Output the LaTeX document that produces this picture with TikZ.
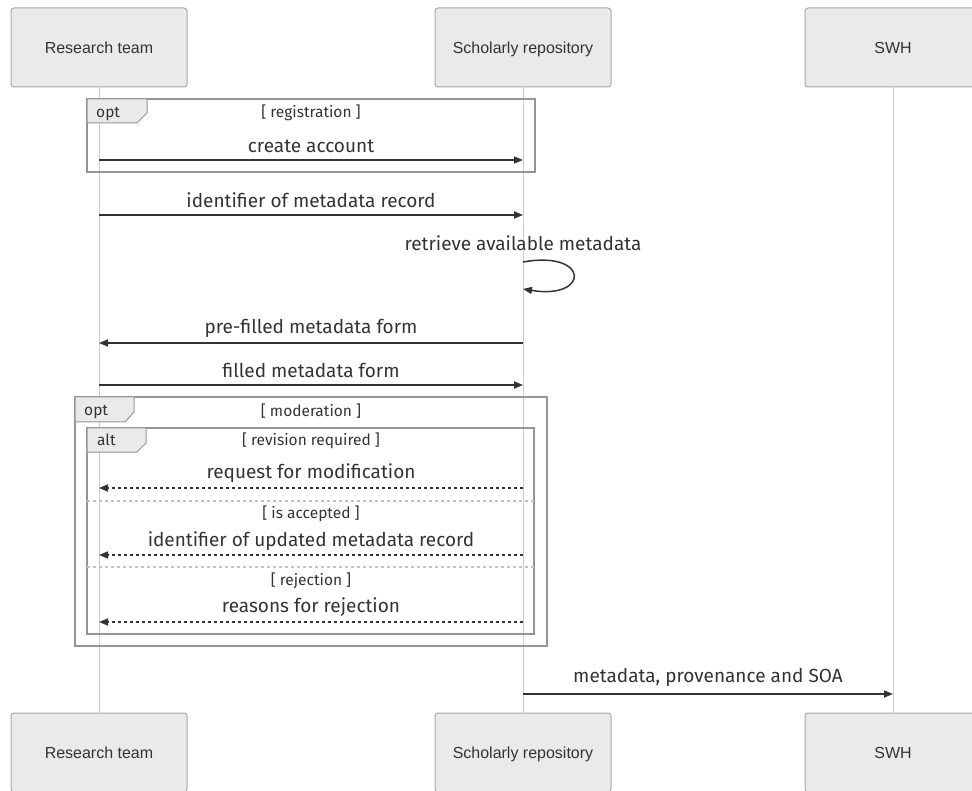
\documentclass[tikz,border=0pt]{standalone}
\usepackage{fontspec}
\setmainfont{Liberation Sans}
\newfontfamily\msgfont{Fira Sans}
\usetikzlibrary{arrows.meta}
\definecolor{actorfill}{HTML}{EAEAEA}
\definecolor{actorline}{HTML}{A8A8A8}
\definecolor{lifeline}{HTML}{CCCCCC}
\definecolor{ink}{HTML}{333333}
\definecolor{frameline}{HTML}{959595}
\definecolor{sepline}{HTML}{C4C4C4}
\tikzset{
  actorbox/.style={draw=actorline, line width=1pt, fill=actorfill, rounded corners=3pt,
    minimum width=176pt, minimum height=79pt, text=ink, font=\fontsize{16}{18}\selectfont,
    inner sep=0pt, text height=11.5pt, text depth=0pt},
  life/.style={draw=lifeline, line width=1pt},
  msg/.style={draw=ink, line width=1.5pt, -{Triangle[length=9pt,width=7pt]}},
  reply/.style={msg, dash pattern=on 3pt off 3pt},
  msgtext/.style={text=ink, font=\msgfont\fontsize{19}{22}\selectfont, inner sep=0pt},
  frame/.style={draw=frameline, line width=2pt},
  tab/.style={draw=frameline, line width=1pt, fill=actorfill},
  tabtext/.style={text=ink, font=\msgfont\fontsize{15.5}{18}\selectfont, inner sep=0pt, anchor=base west},
  guard/.style={text=ink, font=\msgfont\fontsize{15.5}{18}\selectfont, inner sep=0pt},
  separator/.style={draw=sepline, line width=1.5pt, dash pattern=on 3pt off 3pt},
}
\begin{document}
\begin{tikzpicture}[x=1pt,y=-1pt]
\useasboundingbox (0,0) rectangle (972,791);

% actors, top and bottom rows
\node[actorbox] (rtT) at (99,47.5) {Research team};
\node[actorbox] (srT) at (523,47.5) {Scholarly repository};
\node[actorbox] (swT) at (893,47.5) {SWH};
\node[actorbox] (rtB) at (99,752.5) {Research team};
\node[actorbox] (srB) at (523,752.5) {Scholarly repository};
\node[actorbox] (swB) at (893,752.5) {SWH};

% lifelines
\draw[life] (rtT.south) -- (rtB.north);
\draw[life] (srT.south) -- (srB.north);
\draw[life] (swT.south) -- (swB.north);

% opt [registration]
\draw[frame] (87,99) rectangle (535,172);
\draw[tab] (87,99) -- (147,99) -- (147,113) -- (137,123) -- (87,123) -- cycle;
\node[tabtext] (optA) at (96,117.5) {opt};
\node[guard] (gReg) at (311,113) {[ registration ]};

% opt [moderation]
\draw[frame] (75,397) rectangle (547,646);
\draw[tab] (75,397) -- (134,397) -- (134,412) -- (125,422) -- (75,422) -- cycle;
\node[tabtext] (optB) at (84,415.5) {opt};
\node[guard] (gMod) at (311,411) {[ moderation ]};

% alt inside moderation
\draw[frame] (87,428) rectangle (534,634);
\draw[tab] (87,428) -- (146,428) -- (146,443) -- (137,452) -- (87,452) -- cycle;
\node[tabtext] (altA) at (97,446) {alt};
\node[guard] (gRev) at (311,441) {[ revision required ]};
\draw[separator] (87,501) -- (534,501);
\node[guard] (gAcc) at (311,514) {[ is accepted ]};
\draw[separator] (87,567) -- (534,567);
\node[guard] (gRej) at (311,581) {[ rejection ]};

% message end points on the lifelines
\foreach \n/\y in {1/160,2/215,4/343,5/385,6/488,7/555,8/622,9/694}{
  \coordinate (r\n) at (99,\y);
  \coordinate (s\n) at (523,\y);
}
\coordinate (w9) at (893,694);
\coordinate (loopA) at (523,262);
\coordinate (loopB) at (523,289);

% messages
\draw[msg] (r1) -- (s1);
\node[msgtext] (t1) at (311,146) {create account};
\draw[msg] (r2) -- (s2);
\node[msgtext] (t2) at (311,200) {identifier of metadata record};
\node[msgtext] (t3) at (523,243) {retrieve available metadata};
\draw[msg] (loopA) .. controls (590,250) and (590,300) .. (loopB);
\draw[msg] (s4) -- (r4);
\node[msgtext] (t4) at (311,328) {pre-filled metadata form};
\draw[msg] (r5) -- (s5);
\node[msgtext] (t5) at (311,370) {filled metadata form};
\draw[reply] (s6) -- (r6);
\node[msgtext] (t6) at (311,473) {request for modification};
\draw[reply] (s7) -- (r7);
\node[msgtext] (t7) at (311,541) {identifier of updated metadata record};
\draw[reply] (s8) -- (r8);
\node[msgtext] (t8) at (311,607) {reasons for rejection};
\draw[msg] (s9) -- (w9);
\node[msgtext] (t9) at (708,677) {metadata, provenance and SOA};
\end{tikzpicture}
\end{document}
